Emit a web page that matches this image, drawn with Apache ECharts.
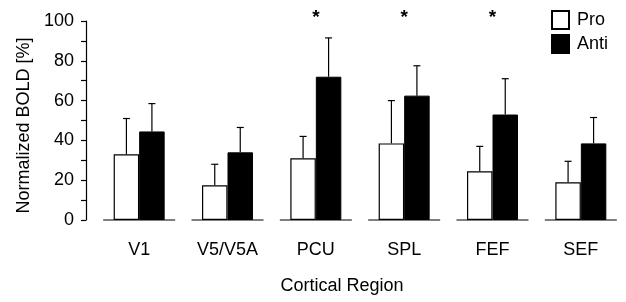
<!DOCTYPE html>
<html>
<head>
<meta charset="utf-8">
<script src="https://cdn.jsdelivr.net/npm/echarts@6/dist/echarts.min.js"></script>
<style>
  html, body { margin: 0; padding: 0; background: #fff; }
  #chart { width: 626px; height: 302px; }
</style>
</head>
<body>
<div id="chart"></div>
<script>
// values
const categories = ['V1', 'V5/V5A', 'PCU', 'SPL', 'FEF', 'SEF']
const proMean = [33, 17.5, 31, 38.5, 24.5, 19]
const proErr = [18, 10.5, 11, 21.5, 12.5, 10.5]
const antiMean = [44.5, 34, 72, 62.5, 53, 38.5]
const antiErr = [14, 12.5, 19.5, 15, 18, 13]
const significant = [false, false, true, true, true, false]
const yTicks = [0, 20, 40, 60, 80, 100]

const font = 'Liberation Sans, Arial, Helvetica, sans-serif'
const barWidth = 25.5

const chart = echarts.init(document.getElementById('chart'))

// upward-only error bar with a small cap, shifted onto its bar
function errorBar(shift) {
  return function (params, api) {
    const top = api.coord([api.value(0), api.value(1) + api.value(2)])
    const base = api.coord([api.value(0), api.value(1)])
    const x = base[0] + shift
    const style = { stroke: '#000', lineWidth: 1.2 }
    return {
      type: 'group',
      children: [
        { type: 'line', shape: { x1: x, y1: base[1], x2: x, y2: top[1] }, style },
        { type: 'line', shape: { x1: x - 3.5, y1: top[1], x2: x + 3.5, y2: top[1] }, style }
      ]
    }
  }
}

const option = {
  animation: false,
  textStyle: { fontFamily: font, color: '#000' },
  grid: { left: 95, right: 1, top: 21, bottom: 82 },
  legend: {
    orient: 'vertical',
    left: 551,
    top: 10,
    padding: 0,
    itemWidth: 17,
    itemHeight: 18,
    itemGap: 4,
    icon: 'rect',
    data: ['Pro', 'Anti'],
    textStyle: { fontSize: 18, color: '#000', fontFamily: font, padding: [0, 0, 0, 3] }
  },
  xAxis: {
    type: 'category',
    data: categories,
    axisLine: { show: false },
    axisTick: { show: false },
    axisLabel: { fontSize: 18, color: '#000', margin: 21, fontFamily: font },
    name: 'Cortical Region',
    nameLocation: 'middle',
    nameGap: 57,
    nameTextStyle: { fontSize: 18, color: '#000', fontFamily: font, padding: [0, 36, 0, 0] }
  },
  yAxis: {
    type: 'value',
    min: yTicks[0],
    max: yTicks[yTicks.length - 1],
    interval: 20,
    offset: 9,
    axisLine: { show: true, lineStyle: { color: '#000', width: 1.2 } },
    axisTick: { show: true, length: 5, lineStyle: { color: '#000', width: 1.2 } },
    minorTick: { show: true, splitNumber: 2, length: 5, lineStyle: { color: '#000', width: 1.2 } },
    splitLine: { show: false },
    axisLabel: { fontSize: 18, color: '#000', margin: 12, fontFamily: font },
    name: 'Normalized BOLD [%]',
    nameLocation: 'middle',
    nameGap: 52,
    nameTextStyle: { fontSize: 18, color: '#000', fontFamily: font, padding: [0, 10, 0, 0] }
  },
  series: [
    {
      name: 'Pro',
      type: 'bar',
      data: proMean,
      barWidth: barWidth,
      barGap: 0,
      itemStyle: { color: '#fff', borderColor: '#000', borderWidth: 1.2 },
      z: 2
    },
    {
      name: 'Anti',
      type: 'bar',
      data: antiMean,
      barWidth: barWidth,
      barGap: 0,
      itemStyle: { color: '#000', borderColor: '#000', borderWidth: 1 },
      z: 2
    },
    {
      // separate baseline under each group
      type: 'custom',
      data: categories.map((c, i) => [i, 0]),
      encode: { x: 0, y: 1 },
      renderItem(params, api) {
        const p = api.coord([api.value(0), api.value(1)])
        return {
          type: 'line',
          shape: { x1: p[0] - 36, y1: p[1], x2: p[0] + 36, y2: p[1] },
          style: { stroke: '#000', lineWidth: 1.2 }
        }
      },
      z: 3
    },
    {
      type: 'custom',
      data: proMean.map((v, i) => [i, v, proErr[i]]),
      encode: { x: 0, y: [1, 2] },
      renderItem: errorBar(-barWidth / 2),
      z: 1
    },
    {
      type: 'custom',
      data: antiMean.map((v, i) => [i, v, antiErr[i]]),
      encode: { x: 0, y: [1, 2] },
      renderItem: errorBar(barWidth / 2),
      z: 1
    },
    {
      // significance stars
      type: 'custom',
      data: categories.map((c, i) => [i, 100]).filter((d, i) => significant[i]),
      encode: { x: 0, y: 1 },
      renderItem(params, api) {
        const p = api.coord([api.value(0), api.value(1)])
        return {
          type: 'text',
          style: {
            text: '*',
            x: p[0],
            y: p[1] - 13,
            align: 'center',
            verticalAlign: 'top',
            fontSize: 19,
            fontWeight: 'bold',
            fontFamily: font,
            fill: '#000'
          }
        }
      },
      z: 4
    }
  ]
}

chart.setOption(option)
</script>
</body>
</html>
